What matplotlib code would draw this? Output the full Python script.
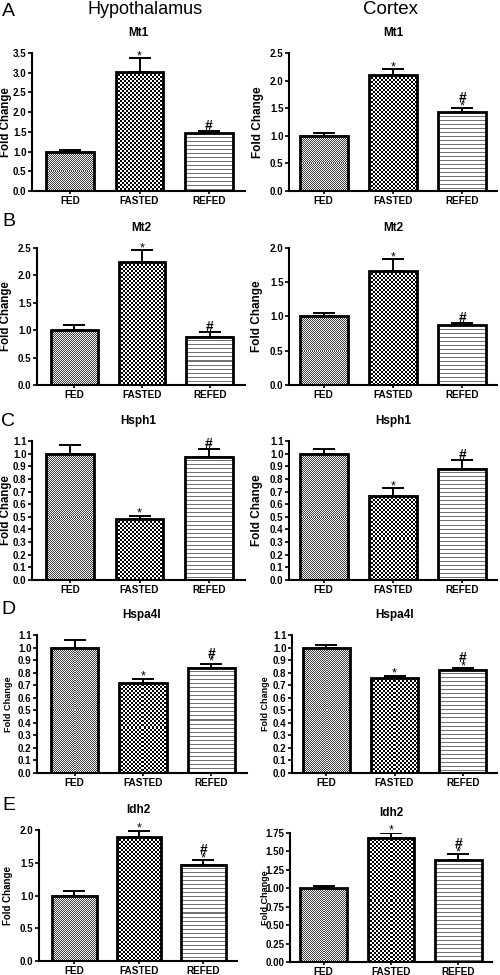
import numpy as np
import matplotlib
matplotlib.use('Agg')
import matplotlib.pyplot as plt
from matplotlib.ticker import FormatStrFormatter

plt.rcParams['font.family'] = ['Liberation Sans', 'DejaVu Sans']

groups = ['FED', 'FASTED', 'REFED']

# Hypothalamus (left column)
mt1_hyp = [1.00, 3.01, 1.46]
mt1_hyp_err = [0.05, 0.36, 0.06]
mt1_hyp_sig = ['', '*', '#']
mt2_hyp = [1.00, 2.24, 0.88]
mt2_hyp_err = [0.10, 0.22, 0.09]
mt2_hyp_sig = ['', '*', '#']
hsph1_hyp = [1.00, 0.48, 0.975]
hsph1_hyp_err = [0.07, 0.03, 0.06]
hsph1_hyp_sig = ['', '*', '#']
hspa4l_hyp = [1.00, 0.72, 0.84]
hspa4l_hyp_err = [0.06, 0.03, 0.03]
hspa4l_hyp_sig = ['', '*', '#*']
idh2_hyp = [1.00, 1.89, 1.47]
idh2_hyp_err = [0.07, 0.10, 0.065]
idh2_hyp_sig = ['', '*', '#*']

# Cortex (right column)
mt1_ctx = [1.00, 2.10, 1.43]
mt1_ctx_err = [0.045, 0.11, 0.07]
mt1_ctx_sig = ['', '*', '#*']
mt2_ctx = [1.00, 1.66, 0.87]
mt2_ctx_err = [0.05, 0.18, 0.04]
mt2_ctx_sig = ['', '*', '#']
hsph1_ctx = [1.00, 0.665, 0.88]
hsph1_ctx_err = [0.04, 0.06, 0.07]
hsph1_ctx_sig = ['', '*', '#']
hspa4l_ctx = [1.00, 0.755, 0.825]
hspa4l_ctx_err = [0.018, 0.02, 0.01]
hspa4l_ctx_sig = ['', '*', '#*']
idh2_ctx = [1.00, 1.686, 1.377]
idh2_ctx_err = [0.035, 0.068, 0.086]
idh2_ctx_sig = ['', '*', '#*']

W, H = 500, 975
fig = plt.figure(figsize=(W / 100, H / 100), dpi=100)


def texture(kind, h, w):
    yy, xx = np.indices((h, w))
    if kind == 0:   # fine grey checker
        return np.where((xx + yy) % 2 == 0, 0.25, 0.95)
    if kind == 1:   # coarse checker
        return np.where(((xx // 2) + (yy // 2)) % 2 == 0, 0.0, 1.0)
    return np.where(yy % 4 == 0, 0.45, 1.0)  # horizontal lines


def panel(box, title, vals, errs, sigs, ymax, step, fmt, xlim, label_x, label_size):
    x0, x1, ytop, ybot = box
    ax = fig.add_axes([x0 / W, 1 - ybot / H, (x1 - x0) / W, (ybot - ytop) / H])
    x = np.arange(len(groups))
    bars = ax.bar(x, vals, width=0.69, facecolor='none', edgecolor='black',
                  linewidth=2.0, zorder=3)
    ax.set_xlim(*xlim)
    ax.set_ylim(0, ymax)

    # pixel-matched fill patterns
    for i, b in enumerate(bars):
        bx, bw, bh = b.get_x(), b.get_width(), b.get_height()
        p0 = ax.transData.transform((bx, 0))
        p1 = ax.transData.transform((bx + bw, bh))
        wpx = max(int(round(p1[0] - p0[0])), 1)
        hpx = max(int(round(p1[1] - p0[1])), 1)
        ax.imshow(texture(i, hpx, wpx), cmap='gray', vmin=0, vmax=1,
                  extent=[bx, bx + bw, 0, bh], aspect='auto',
                  interpolation='nearest', zorder=2)
    ax.set_xlim(*xlim)
    ax.set_ylim(0, ymax)

    ax.errorbar(x, vals, yerr=[np.zeros(len(vals)), errs], fmt='none',
                ecolor='black', elinewidth=1.4, capsize=8, capthick=1.4, zorder=4)

    for xi, v, e, s in zip(x, vals, errs, sigs):
        top = v + e
        if '*' in s:
            ax.annotate('*', xy=(xi, top), xytext=(0, -1), textcoords='offset pixels',
                        ha='center', va='baseline', fontsize=9)
        if '#' in s:
            off = 6 if '*' in s else 1
            ax.annotate('#', xy=(xi, top), xytext=(0, off), textcoords='offset pixels',
                        ha='center', va='baseline', fontsize=10, fontweight='bold')

    ax.set_yticks(np.arange(0, ymax + step / 2, step))
    ax.yaxis.set_major_formatter(FormatStrFormatter(fmt))
    ax.set_xticks(x)
    ax.set_xticklabels(groups)
    for sp in ['top', 'right']:
        ax.spines[sp].set_visible(False)
    for sp in ['left', 'bottom']:
        ax.spines[sp].set_linewidth(1.5)
    ax.tick_params(axis='y', length=3, width=1.2, pad=1, labelsize=7)
    ax.tick_params(axis='x', length=2.5, width=1.2, pad=0.8, labelsize=7.2)
    for lbl in ax.get_xticklabels() + ax.get_yticklabels():
        lbl.set_fontweight('bold')

    ax.annotate(title, xy=(0.5, 1), xycoords='axes fraction', xytext=(0, 20),
                textcoords='offset pixels', ha='center', va='center',
                fontsize=8.5, fontweight='bold')
    fig.text(label_x / W, 1 - (ytop + ybot) / 2 / H, 'Fold Change', rotation=90,
             ha='center', va='center', fontsize=label_size, fontweight='bold')
    return ax


lx = (-0.55, 2.52)
rx = (-0.5, 2.5)

panel((32, 245, 53, 191), 'Mt1', mt1_hyp, mt1_hyp_err, mt1_hyp_sig, 3.5, 0.5, '%.1f', lx, 6.5, 8.3)
panel((289, 497, 53, 191), 'Mt1', mt1_ctx, mt1_ctx_err, mt1_ctx_sig, 2.5, 0.5, '%.1f', rx, 258, 8.5)
panel((37, 245, 248, 385), 'Mt2', mt2_hyp, mt2_hyp_err, mt2_hyp_sig, 2.5, 0.5, '%.1f', lx, 6.5, 8.3)
panel((289, 497, 248, 385), 'Mt2', mt2_ctx, mt2_ctx_err, mt2_ctx_sig, 2.0, 0.5, '%.1f', rx, 257, 8.5)
panel((32, 245, 441, 580), 'Hsph1', hsph1_hyp, hsph1_hyp_err, hsph1_hyp_sig, 1.1, 0.1, '%.1f', lx, 6.5, 8.3)
panel((289, 497, 441, 580), 'Hsph1', hsph1_ctx, hsph1_ctx_err, hsph1_ctx_sig, 1.1, 0.1, '%.1f', rx, 257, 8.5)
panel((37, 247, 635, 773), 'Hspa4l', hspa4l_hyp, hspa4l_hyp_err, hspa4l_hyp_sig, 1.1, 0.1, '%.1f', lx, 9, 6.6)
panel((292, 497, 635, 773), 'Hspa4l', hspa4l_ctx, hspa4l_ctx_err, hspa4l_ctx_sig, 1.1, 0.1, '%.1f', rx, 265, 6.5)
panel((39, 237, 830, 961), 'Idh2', idh2_hyp, idh2_hyp_err, idh2_hyp_sig, 2.0, 0.5, '%.1f', lx, 8, 7.0)
panel((290, 492, 833, 962), 'Idh2', idh2_ctx, idh2_ctx_err, idh2_ctx_sig, 1.75, 0.25, '%.2f', rx, 265, 6.5)

fig.text(145 / W, 1 - 10 / H, 'Hypothalamus', ha='center', va='center', fontsize=13)
fig.text(390 / W, 1 - 10 / H, 'Cortex', ha='center', va='center', fontsize=13.5)
for letter, yc in zip('ABCDE', [12, 222, 422, 610, 806]):
    fig.text(8.5 / W, 1 - yc / H, letter, ha='center', va='center', fontsize=14)

fig.savefig('out.png', dpi=100)
